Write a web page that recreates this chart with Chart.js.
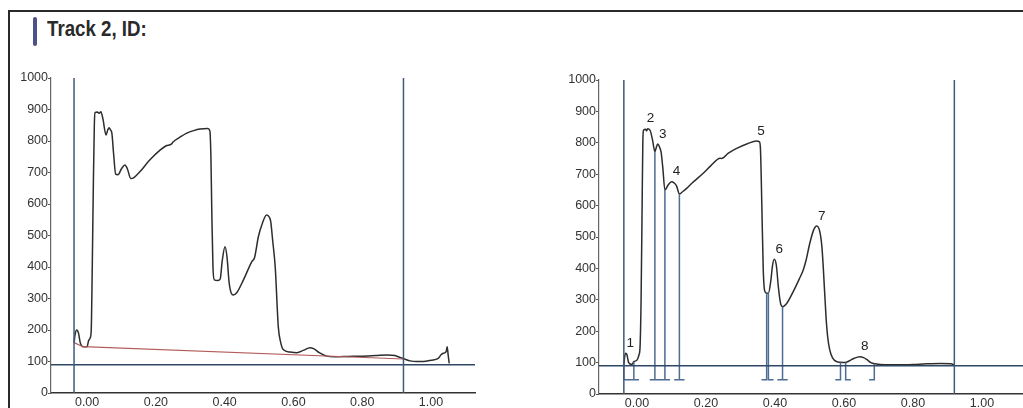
<!DOCTYPE html>
<html>
<head>
<meta charset="utf-8">
<script src="https://cdn.jsdelivr.net/npm/chart.js@4.4.1/dist/chart.umd.min.js"></script>
<style>
  html, body { margin: 0; padding: 0; background: #fff; overflow: hidden; }
  body { width: 1023px; height: 408px; position: relative; font-family: "Liberation Sans", Arial, sans-serif; }
  #frame { position: absolute; left: 8px; top: 10px; width: 1030px; height: 420px; border-left: 2px solid #2a2a2a; border-top: 2px solid #2a2a2a; }
  #bar { position: absolute; left: 33px; top: 17px; width: 4px; height: 29px; background: #4f5088; border-radius: 2px; }
  #title { position: absolute; left: 47px; top: 16px; font-size: 22px; font-weight: bold; color: #2a2a2a; transform: scaleX(0.85); transform-origin: left top; white-space: nowrap; }
  canvas { position: absolute; top: 0; }
  #leftChart { left: 0; }
  #rightChart { left: 500px; }
</style>
</head>
<body>
<div id="frame"></div>
<div id="bar"></div>
<div id="title">Track 2, ID:</div>
<canvas id="leftChart" width="490" height="408"></canvas>
<canvas id="rightChart" width="523" height="408"></canvas>
<script>
// ticks
const xTicks = [0, 0.2, 0.4, 0.6, 0.8, 1.0];
const yMax = 1000;

// left densitometry trace
const leftTraceX = [-0.038, -0.035, -0.03, -0.025, -0.02, -0.012, 0.0, 0.004, 0.009, 0.012, 0.015, 0.018, 0.021, 0.023, 0.03, 0.035, 0.04, 0.046, 0.055, 0.06, 0.064, 0.068, 0.072, 0.077, 0.083, 0.09, 0.10, 0.11, 0.117, 0.127, 0.135, 0.154, 0.18, 0.212, 0.23, 0.245, 0.25, 0.27, 0.29, 0.31, 0.328, 0.351, 0.357, 0.36, 0.363, 0.366, 0.37, 0.38, 0.387, 0.393, 0.401, 0.407, 0.413, 0.42, 0.425, 0.435, 0.455, 0.479, 0.487, 0.498, 0.51, 0.522, 0.53, 0.534, 0.54, 0.547, 0.556, 0.563, 0.571, 0.59, 0.61, 0.63, 0.648, 0.66, 0.675, 0.697, 0.72, 0.76, 0.80, 0.84, 0.871, 0.895, 0.91, 0.925, 0.939, 0.96, 0.978, 1.0, 1.021, 1.03, 1.036, 1.044, 1.047, 1.05, 1.053];
const leftTraceY = [160, 185, 200, 190, 160, 147, 147, 165, 175, 200, 400, 650, 850, 890, 892, 888, 893, 870, 819, 835, 842, 835, 825, 760, 695, 693, 712, 724, 712, 681, 683, 703, 737, 771, 785, 790, 797, 812, 825, 833, 838, 840, 832, 750, 550, 400, 359, 357, 362, 420, 464, 430, 350, 315, 311, 318, 360, 417, 430, 496, 540, 565, 558, 544, 480, 401, 210, 160, 137, 130, 128, 136, 144, 140, 128, 117, 115, 116, 117, 119, 121, 119, 113, 107, 102, 100, 100, 104, 110, 122, 126, 131, 147, 120, 94];

// left red baseline
const baselineX = [-0.038, -0.012, 0.92];
const baselineY = [160, 147, 108];

// right trace (peaks split)
const rightTraceX = [-0.038, -0.036, -0.033, -0.029, -0.024, -0.015, -0.009, 0.0, 0.006, 0.009, 0.012, 0.015, 0.017, 0.019, 0.025, 0.028, 0.031, 0.038, 0.045, 0.052, 0.056, 0.06, 0.066, 0.07, 0.075, 0.081, 0.09, 0.10, 0.108, 0.115, 0.123, 0.133, 0.144, 0.16, 0.192, 0.215, 0.241, 0.245, 0.265, 0.289, 0.32, 0.347, 0.355, 0.358, 0.362, 0.366, 0.37, 0.376, 0.381, 0.388, 0.393, 0.398, 0.404, 0.41, 0.416, 0.422, 0.435, 0.453, 0.47, 0.482, 0.49, 0.501, 0.512, 0.521, 0.53, 0.536, 0.54, 0.548, 0.553, 0.559, 0.567, 0.579, 0.59, 0.603, 0.615, 0.63, 0.646, 0.657, 0.666, 0.678, 0.69, 0.72, 0.76, 0.80, 0.84, 0.88, 0.91, 0.92];
const rightTraceY = [92, 115, 130, 125, 100, 94, 103, 108, 125, 150, 300, 600, 800, 840, 843, 838, 845, 840, 810, 772, 785, 796, 785, 770, 720, 650, 665, 676, 672, 662, 637, 645, 655, 672, 703, 728, 751, 750, 767, 782, 797, 806, 803, 780, 600, 400, 330, 321, 321, 360, 410, 429, 410, 340, 290, 278, 290, 326, 365, 395, 425, 480, 522, 535, 517, 470, 405, 246, 180, 140, 115, 103, 101, 100, 105, 114, 119, 116, 110, 100, 96, 93, 93, 94, 96, 97, 96, 93];

// marker lines
const markerX = [-0.038, 0.92];
const levelY = 90;

// peak split drop lines (right panel)
const splitX = [-0.038, -0.009, 0.052, 0.081, 0.123, 0.376, 0.381, 0.422, 0.59, 0.605, 0.688];
const splitTop = [92, 103, 772, 650, 637, 321, 321, 278, 101, 100, 96];
const splitFoot = ["right", "both", "both", "both", "both", "left", "right", "both", "left", "right", "left"];
const splitBottom = 45;
const footW = 0.015;

// peak numbers
const peakLabels = ["1", "2", "3", "4", "5", "6", "7", "8"];
const peakX = [-0.034, 0.025, 0.06, 0.10, 0.345, 0.398, 0.521, 0.646];
const peakY = [130, 845, 796, 676, 806, 429, 535, 119];

const pts = (xs, ys) => xs.map((x, i) => ({ x, y: ys[i] }));

const traceStyle = { borderColor: "#2d2d2d", borderWidth: 1.5, pointRadius: 0, cubicInterpolationMode: "monotone" };
const markerStyle = { borderColor: "#3f5a7c", borderWidth: 1.5, pointRadius: 0, tension: 0 };

function markerSets(xMin, xMax) {
  const sets = markerX.map((mx) => ({ ...markerStyle, data: [{ x: mx, y: 0 }, { x: mx, y: yMax }] }));
  sets.push({ ...markerStyle, borderColor: "#2f4866", data: [{ x: xMin, y: levelY }, { x: xMax, y: levelY }] });
  return sets;
}

function splitSets() {
  return splitX.map((sx, i) => {
    const f = splitFoot[i];
    const data = [{ x: sx, y: splitTop[i] }, { x: sx, y: splitBottom }];
    if (f === "left" || f === "both") data.push({ x: sx - footW, y: splitBottom });
    if (f === "both") data.push({ x: sx, y: splitBottom });
    if (f === "right" || f === "both") data.push({ x: sx + footW, y: splitBottom });
    return { borderColor: "#4d6d93", borderWidth: 1.5, pointRadius: 0, tension: 0, data };
  });
}

const peakLabelPlugin = {
  id: "peakLabels",
  afterDatasetsDraw(chart) {
    const { ctx, scales: { x, y } } = chart;
    ctx.save();
    ctx.font = '13.5px "Liberation Sans", Arial, sans-serif';
    ctx.fillStyle = "#222";
    ctx.textAlign = "center";
    ctx.textBaseline = "middle";
    peakLabels.forEach((t, i) => {
      ctx.fillText(t, x.getPixelForValue(peakX[i]) + 5, y.getPixelForValue(peakY[i]) - 10);
    });
    ctx.restore();
  }
};

function makeOptions(xMin, xMax, yAxisWidth, xAxisHeight, pad) {
  const xFont = { family: '"Liberation Sans", Arial, sans-serif', size: 12.5 };
  const yFont = { family: '"Liberation Sans", Arial, sans-serif', size: 12.5 };
  return {
    responsive: false,
    animation: false,
    events: [],
    layout: { padding: pad },
    plugins: { legend: { display: false }, tooltip: { enabled: false } },
    scales: {
      x: {
        type: "linear",
        min: xMin,
        max: xMax,
        afterBuildTicks: (axis) => { axis.ticks = xTicks.map((v) => ({ value: v })); },
        afterFit: (s) => { s.height = xAxisHeight; },
        grid: { display: false, drawTicks: false, tickLength: 0 },
        border: { display: true, color: "#333", width: 1.5 },
        ticks: { color: "#333", font: xFont, padding: 2, maxRotation: 0, autoSkip: false, callback: (v) => Number(v).toFixed(2) }
      },
      y: {
        type: "linear",
        min: 0,
        max: yMax,
        afterFit: (s) => { s.width = yAxisWidth; },
        grid: { display: true, drawOnChartArea: false, drawTicks: true, tickLength: 3, color: "#555" },
        border: { display: true, color: "#666", width: 1.2 },
        ticks: { color: "#333", font: yFont, padding: 0, stepSize: 100, callback: (v) => String(v) }
      }
    }
  };
}

const leftMin = -0.105, leftMax = 1.128;
new Chart(document.getElementById("leftChart"), {
  type: "line",
  data: {
    datasets: [
      ...markerSets(leftMin, leftMax),
      { borderColor: "#b45c5c", borderWidth: 1.2, pointRadius: 0, tension: 0, data: pts(baselineX, baselineY) },
      { ...traceStyle, data: pts(leftTraceX, leftTraceY) }
    ]
  },
  options: makeOptions(leftMin, leftMax, 51, 15, { left: 0, top: 78, right: 15, bottom: 0 })
});

const rightMin = -0.110, rightMax = 1.119;
new Chart(document.getElementById("rightChart"), {
  type: "line",
  data: {
    datasets: [
      ...markerSets(rightMin, rightMax),
      ...splitSets(),
      { ...traceStyle, data: pts(rightTraceX, rightTraceY) }
    ]
  },
  options: makeOptions(rightMin, rightMax, 99, 14, { left: 0, top: 80, right: 0, bottom: 0 }),
  plugins: [peakLabelPlugin]
});
</script>
</body>
</html>
